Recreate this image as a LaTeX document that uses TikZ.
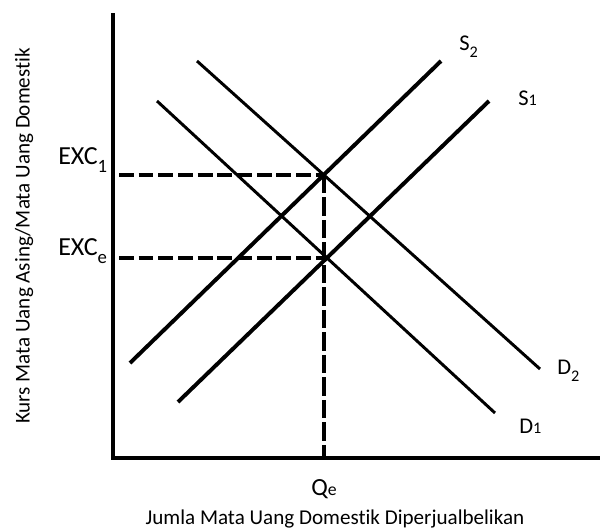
\documentclass[tikz,border=0pt]{standalone}
\usepackage{fontspec}
\setmainfont{Carlito}[Ligatures=NoCommon]
\usetikzlibrary{positioning,intersections}
\newcommand{\lowsub}[1]{\raisebox{-0.32em}{\scalebox{0.72}{#1}}}
\newcommand{\flatsub}[1]{\scalebox{0.72}{#1}}

\begin{document}
\begin{tikzpicture}[
  x=0.025cm, y=-0.025cm,
  axis/.style={line width=3.2pt},
  supply/.style={line width=2.8pt},
  demand/.style={line width=2.1pt},
  guide/.style={line width=3.1pt, dash pattern=on 10.5pt off 3.5pt},
  lbl/.style={inner sep=0pt, anchor=base west, font=\fontsize{16}{18}\selectfont},
  exclbl/.style={inner sep=0pt, anchor=base west, font=\fontsize{18.5}{21}\selectfont},
  axislbl/.style={inner sep=0pt, font=\fontsize{15}{18}\selectfont}
]
\useasboundingbox (0,0) rectangle (600,529);
\coordinate (top) at (113,13);
\coordinate (origin) at (113,458);
\coordinate (right) at (600,458);
\draw[axis, line join=miter] (top) -- (origin) -- (right);

% supply and demand curves
\draw[supply, name path=s2] (130,363) -- (441,61);
\draw[supply, name path=s1] (178,402) -- (489,101);
\draw[demand, name path=d1] (157,101) -- (495,413);
\draw[demand, name path=d2] (197,61) -- (540,369);
\path[name intersections={of=s2 and d2, by=e1}];
\path[name intersections={of=s1 and d1, by=ee}];

% dashed guides
\coordinate (gstart) at (119,0);
\draw[guide] (gstart |- e1) -- (e1);
\draw[guide] (gstart |- ee) -- (ee);
\draw[guide, dash pattern=on 13pt off 3pt] (e1) -- (e1 |- origin);

\node[lbl] (s2lbl) at (459,50) {S\lowsub{2}};
\node[lbl] (s1lbl) at (518,105) {S\flatsub{1}};
\node[lbl] (d2lbl) at (557,374) {D\lowsub{2}};
\node[lbl] (d1lbl) at (519,433) {D\flatsub{1}};
\node[exclbl] (exc1) at (58,164) {EXC\lowsub{1}};
\node[exclbl] (exce) at (58,255) {EXC\lowsub{e}};
\node[lbl, font=\fontsize{17.5}{20}\selectfont] (qe) at (311,495) {Q\flatsub{e}};
\node[axislbl, anchor=base] (xlbl) at (335,524) {Jumla Mata Uang Domestik Diperjualbelikan};
\node[axislbl, rotate=90] (ylbl) at (24,236) {Kurs Mata Uang Asing/Mata Uang Domestik};
\end{tikzpicture}
\end{document}
